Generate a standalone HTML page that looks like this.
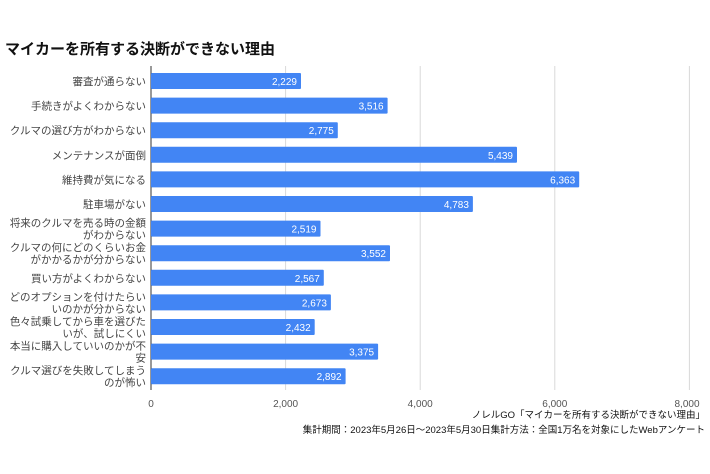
<!DOCTYPE html>
<html><head><meta charset="utf-8"><style>
html,body{margin:0;padding:0;background:#fff;width:710px;height:474px;overflow:hidden}
svg{display:block;font-family:"Liberation Sans","Noto Sans CJK JP",sans-serif}
</style></head><body>
<svg width="710" height="474" viewBox="0 0 710 474" xmlns="http://www.w3.org/2000/svg">
<text x="5" y="54" font-size="15" font-weight="bold" fill="#111">マイカーを所有する決断ができない理由</text>
<g stroke="#d9d9d9" stroke-width="1">
<line x1="285.6" y1="66" x2="285.6" y2="390"/>
<line x1="420.2" y1="66" x2="420.2" y2="390"/>
<line x1="554.8" y1="66" x2="554.8" y2="390"/>
<line x1="689.4" y1="66" x2="689.4" y2="390"/>
</g>
<line x1="151" y1="66" x2="151" y2="390" stroke="#333" stroke-width="1"/>
<g fill="#4285f4">
<rect x="151" y="73" width="150" height="16" rx="1"/>
<rect x="151" y="97.6" width="236.6" height="16" rx="1"/>
<rect x="151" y="122.2" width="186.8" height="16" rx="1"/>
<rect x="151" y="146.8" width="366" height="16" rx="1"/>
<rect x="151" y="171.4" width="428.2" height="16" rx="1"/>
<rect x="151" y="196" width="321.9" height="16" rx="1"/>
<rect x="151" y="220.6" width="169.5" height="16" rx="1"/>
<rect x="151" y="245.2" width="239" height="16" rx="1"/>
<rect x="151" y="269.8" width="172.8" height="16" rx="1"/>
<rect x="151" y="294.4" width="179.9" height="16" rx="1"/>
<rect x="151" y="319" width="163.7" height="16" rx="1"/>
<rect x="151" y="343.6" width="227.1" height="16" rx="1"/>
<rect x="151" y="368.2" width="194.6" height="16" rx="1"/>
</g>
<g fill="#fff" font-size="10" text-anchor="end">
<text x="297" y="85">2,229</text>
<text x="383.6" y="109.6">3,516</text>
<text x="333.8" y="134.2">2,775</text>
<text x="513" y="158.8">5,439</text>
<text x="575.2" y="183.4">6,363</text>
<text x="468.9" y="208">4,783</text>
<text x="316.5" y="232.6">2,519</text>
<text x="386" y="257.2">3,552</text>
<text x="319.8" y="281.8">2,567</text>
<text x="326.9" y="306.4">2,673</text>
<text x="310.7" y="331">2,432</text>
<text x="374.1" y="355.6">3,375</text>
<text x="341.6" y="380.2">2,892</text>
</g>
<g fill="#444" font-size="10.5" text-anchor="end">
<text x="146" y="85">審査が通らない</text>
<text x="146" y="109.6">手続きがよくわからない</text>
<text x="146" y="134.2">クルマの選び方がわからない</text>
<text x="146" y="158.8">メンテナンスが面倒</text>
<text x="146" y="183.4">維持費が気になる</text>
<text x="146" y="208">駐車場がない</text>
<text x="146" y="226.6">将来のクルマを売る時の金額</text>
<text x="146" y="238.6">がわからない</text>
<text x="146" y="251.2">クルマの何にどのくらいお金</text>
<text x="146" y="263.2">がかかるかが分からない</text>
<text x="146" y="281.8">買い方がよくわからない</text>
<text x="146" y="300.4">どのオプションを付けたらい</text>
<text x="146" y="312.4">いのかが分からない</text>
<text x="146" y="325">色々試乗してから車を選びた</text>
<text x="146" y="337">いが、試しにくい</text>
<text x="146" y="349.6">本当に購入していいのかが不</text>
<text x="146" y="361.6">安</text>
<text x="146" y="374.2">クルマ選びを失敗してしまう</text>
<text x="146" y="386.2">のが怖い</text>
</g>
<g fill="#555" font-size="10" text-anchor="middle">
<text x="151" y="407">0</text>
<text x="285.6" y="407">2,000</text>
<text x="420.2" y="407">4,000</text>
<text x="554.8" y="407">6,000</text>
<text x="687" y="407">8,000</text>
</g>
<g fill="#111" font-size="9.5" text-anchor="end">
<text x="705" y="418">ノレルGO「マイカーを所有する決断ができない理由」</text>
<text x="705" y="433">集計期間：2023年5月26日～2023年5月30日集計方法：全国1万名を対象にしたWebアンケート</text>
</g>
</svg>
</body></html>
